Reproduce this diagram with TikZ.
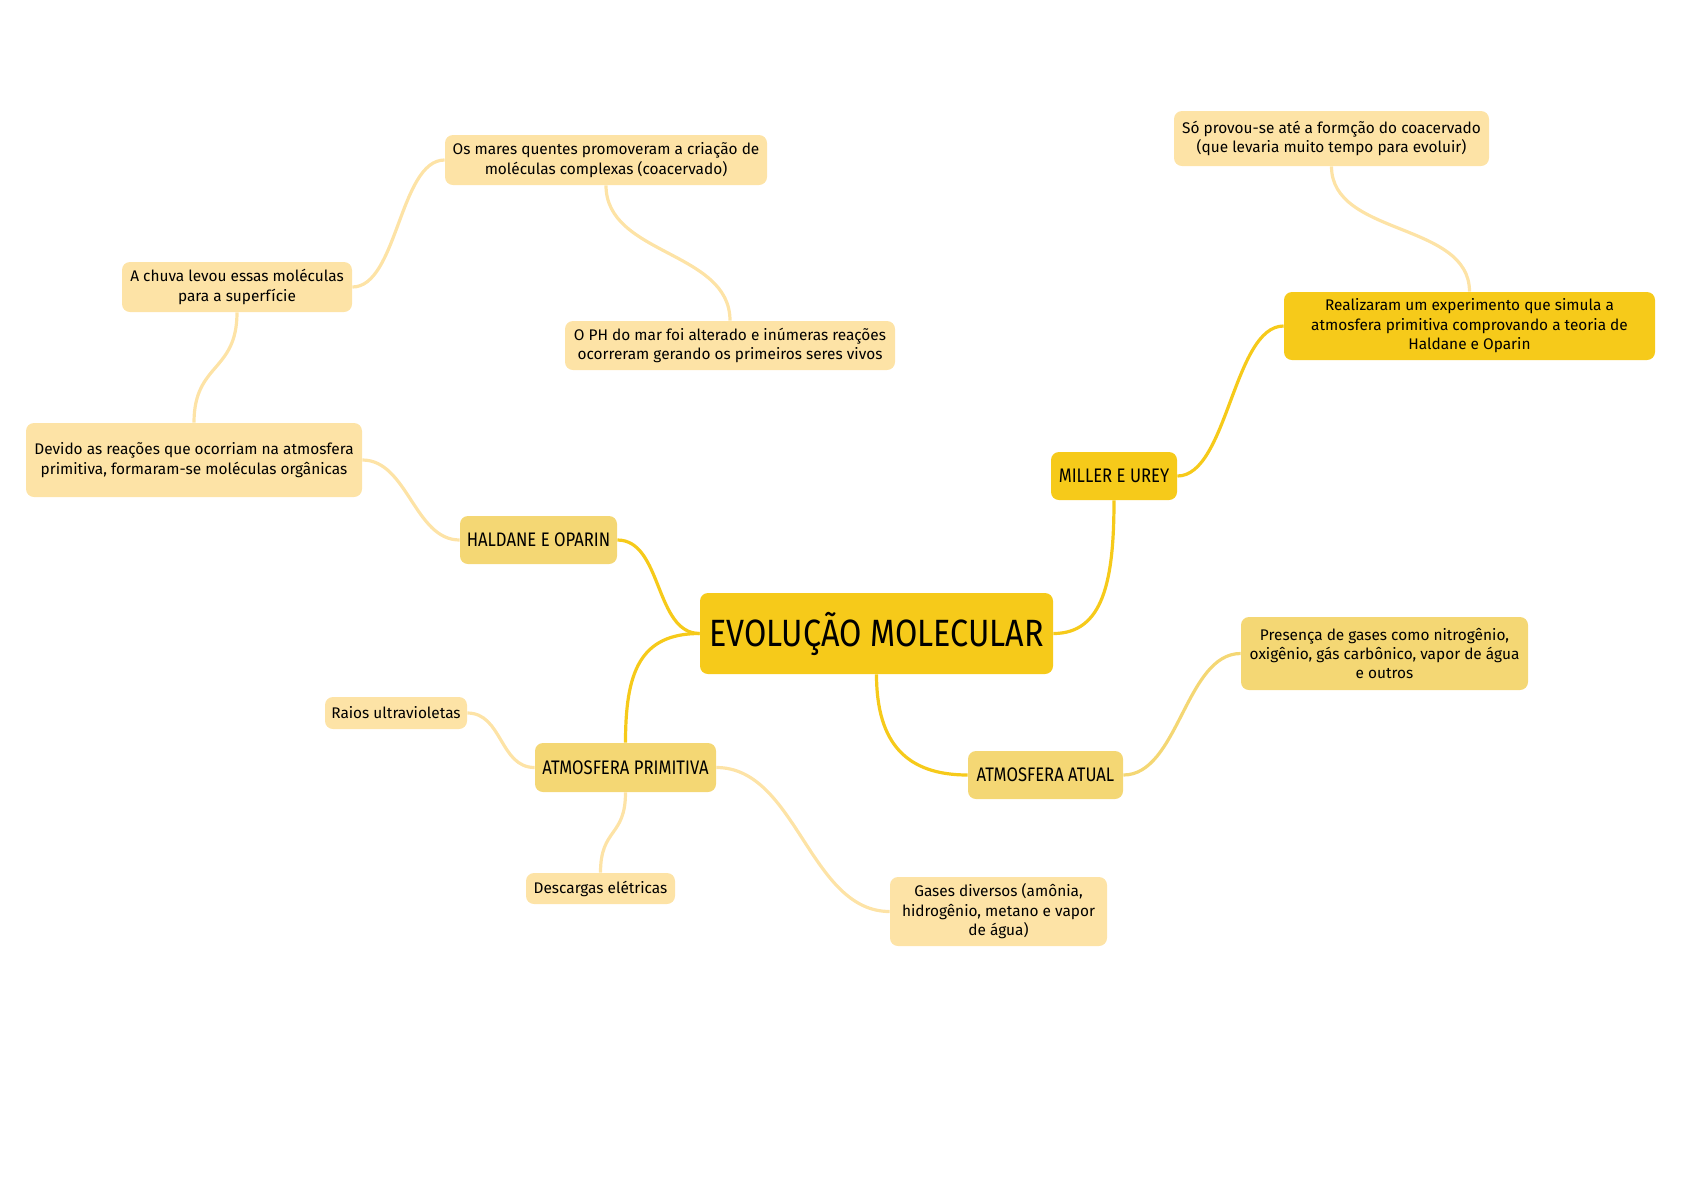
\documentclass[tikz,border=0pt]{standalone}
\usepackage{fontspec}
\usetikzlibrary{backgrounds}
\setmainfont{Fira Sans}
\newfontfamily\hand[FakeStretch=0.85]{Fira Sans}
\definecolor{gold}{HTML}{F6CA1A}
\definecolor{mid}{HTML}{F4D774}
\definecolor{light}{HTML}{FDE3A6}
\begin{document}
\begin{tikzpicture}[x=0.5pt,y=-0.5pt,
  box/.style={rectangle,rounded corners=4pt,inner sep=0pt,align=center,
    font=\fontsize{7.7}{9.7}\selectfont,text=black},
  goldbox/.style={box,fill=gold},
  midbox/.style={box,fill=mid},
  lightbox/.style={box,fill=light},
  head/.style={font=\hand\fontsize{9.8}{11}\selectfont},
  wh/.style 2 args={minimum width=#1*0.5pt,minimum height=#2*0.5pt},
  congold/.style={draw=gold,line width=1.6pt},
  conmid/.style={draw=mid,line width=1.6pt},
  conlight/.style={draw=light,line width=1.6pt}]
\useasboundingbox (0,0) rectangle (1682,1190);
% nodes
\node[goldbox,wh={353}{81},font=\hand\fontsize{19}{22}\selectfont] (central) at (876.5,633.5) {EVOLUÇÃO MOLECULAR};
\node[goldbox,head,wh={126}{48}] (miller) at (1114,476) {MILLER E UREY};
\node[goldbox,wh={371}{68}] (realiz) at (1469.5,326) {Realizaram um experimento que simula a\\atmosfera primitiva comprovando a teoria de\\Haldane e Oparin};
\node[lightbox,wh={315}{55}] (sop) at (1331.5,138.5) {Só provou-se até a formção do coacervado\\(que levaria muito tempo para evoluir)};
\node[midbox,wh={287}{73}] (pres) at (1384.5,653.5) {Presença de gases como nitrogênio,\\oxigênio, gás carbônico, vapor de água\\e outros};
\node[midbox,head,wh={155}{48}] (atual) at (1045.5,775) {ATMOSFERA ATUAL};
\node[midbox,head,wh={157}{48}] (hald) at (538.5,540) {HALDANE E OPARIN};
\node[lightbox,wh={336}{74}] (devido) at (194,460) {Devido as reações que ocorriam na atmosfera\\primitiva, formaram-se moléculas orgânicas};
\node[lightbox,wh={230}{50}] (chuva) at (237,287) {A chuva levou essas moléculas\\para a superfície};
\node[lightbox,wh={322}{50}] (mares) at (606,160) {Os mares quentes promoveram a criação de\\moléculas complexas (coacervado)};
\node[lightbox,wh={330}{49}] (oph) at (730,345.5) {O PH do mar foi alterado e inúmeras reações\\ocorreram gerando os primeiros seres vivos};
\node[midbox,head,wh={181}{49}] (ap) at (625.5,767.5) {ATMOSFERA PRIMITIVA};
\node[lightbox,wh={142}{32}] (raios) at (396,713) {Raios ultravioletas};
\node[lightbox,wh={149}{31}] (desc) at (600.5,888.5) {Descargas elétricas};
\node[lightbox,wh={217}{69}] (gases) at (998.5,911.5) {Gases diversos (amônia,\\hidrogênio, metano e vapor\\de água)};
% connectors
\begin{scope}[on background layer]
\draw[congold] (central.west) .. controls +(-45,0) and +(45,0) .. (hald.east);
\draw[congold] (central.west) .. controls +(-60,0) and +(0,-70) .. (ap.north);
\draw[congold] (central.east) .. controls +(50,0) and +(0,80) .. (miller.south);
\draw[congold] (central.south) .. controls +(0,70) and +(-60,0) .. (atual.west);
\draw[congold] (miller.east) .. controls +(50,0) and +(-50,0) .. (realiz.west);
\draw[conlight] (realiz.north) .. controls +(0,-70) and +(0,70) .. (sop.south);
\draw[conmid] (atual.east) .. controls +(55,0) and +(-55,0) .. (pres.west);
\draw[conlight] (hald.west) .. controls +(-45,0) and +(45,0) .. (devido.east);
\draw[conlight] (devido.north) .. controls +(0,-60) and +(0,60) .. (chuva.south);
\draw[conlight] (chuva.east) .. controls +(45,0) and +(-45,0) .. (mares.west);
\draw[conlight] (mares.south) .. controls +(0,70) and +(0,-70) .. (oph.north);
\draw[conlight] (ap.west) .. controls +(-35,0) and +(35,0) .. (raios.east);
\draw[conlight] (ap.south) .. controls +(0,45) and +(0,-45) .. (desc.north);
\draw[conlight] (ap.east) .. controls +(80,0) and +(-80,0) .. (gases.west);
\end{scope}
\end{tikzpicture}
\end{document}
